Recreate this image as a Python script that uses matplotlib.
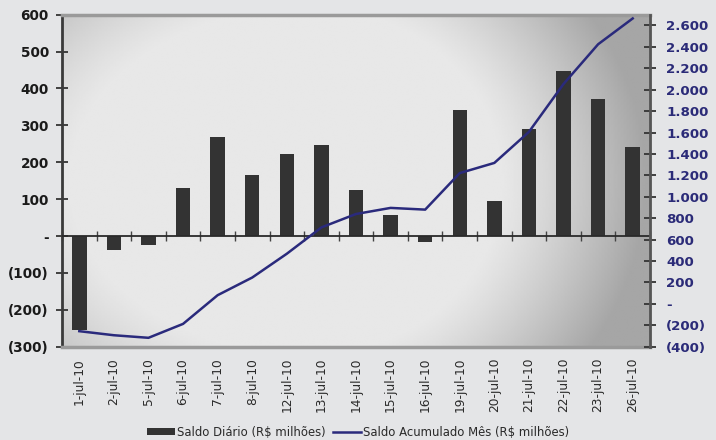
import matplotlib
matplotlib.use("Agg")
import matplotlib.pyplot as plt
import numpy as np
from matplotlib.patches import Patch
from matplotlib.lines import Line2D
from matplotlib.ticker import FuncFormatter, MultipleLocator

categories = ["1-jul-10", "2-jul-10", "5-jul-10", "6-jul-10", "7-jul-10", "8-jul-10",
              "12-jul-10", "13-jul-10", "14-jul-10", "15-jul-10", "16-jul-10",
              "19-jul-10", "20-jul-10", "21-jul-10", "22-jul-10", "23-jul-10", "26-jul-10"]
saldo_diario = [-255, -38, -24, 130, 268, 165, 222, 246, 125, 57, -16,
                341, 95, 290, 447, 371, 241]
saldo_acumulado = [-255, -293, -317, -187, 81, 246, 468, 714, 839, 896, 880,
                   1221, 1316, 1606, 2053, 2424, 2665]

bar_color = "#333333"
line_color = "#2a2a7c"
navy_text = "#2b2b78"

fig = plt.figure(figsize=(7.16, 4.4), dpi=100)
fig.patch.set_facecolor("#e4e5e7")

ax = fig.add_axes([62/716, 1-346.7/440, 588/716, 332/440])

# background gradient of the plot area
ny, nx = 200, 400
yy, xx = np.mgrid[0:1:ny*1j, 0:1:nx*1j]
rx = np.where(xx < 0.42, 0.62, 0.5)
d = np.sqrt(((xx-0.42)/rx)**2 + ((yy-0.5)/0.8)**2)
val = 0.91 - 0.26*np.clip((d-0.65)/0.5, 0, 1)**1.2
ax.imshow(val, extent=[0, 1, 0, 1], transform=ax.transAxes, aspect="auto",
          cmap="gray", vmin=0, vmax=1, zorder=0, interpolation="bilinear")

x = np.arange(len(categories))
ax.bar(x, saldo_diario, width=0.42, color=bar_color, zorder=2)
ax.set_xlim(-0.5, len(categories)-0.5)
ax.set_ylim(-300, 600)
ax.yaxis.set_major_locator(MultipleLocator(100))

def fmt(v, pos=None):
    v = int(round(v))
    if v == 0:
        return "-"
    s = f"{abs(v):,}".replace(",", ".")
    return f"({s})" if v < 0 else s

ax.yaxis.set_major_formatter(FuncFormatter(fmt))
ax.tick_params(axis="y", direction="inout", length=9, width=1.3, color="#333333",
               labelsize=9.8, labelcolor="#1a1a1a", pad=5)
for lab in ax.get_yticklabels():
    lab.set_fontweight("bold")

ax.set_xticks(x)
ax.set_xticklabels(categories, rotation=90, fontsize=8.8, color="#2a2a2a")
ax.tick_params(axis="x", length=0, pad=8)

# zero line with category-boundary ticks
ax.axhline(0, color="#2a2a2a", lw=1.3, zorder=3)
sec = ax.secondary_xaxis(1/3)
sec.set_xticks(np.arange(len(categories)+1)-0.5)
sec.tick_params(axis="x", direction="inout", length=7, width=1, color="#444444",
                labelbottom=False, labeltop=False)
sec.spines["bottom"].set_visible(False)
sec.spines["top"].set_visible(False)

for side in ["top", "bottom"]:
    ax.spines[side].set_color("#9a9a9a")
    ax.spines[side].set_linewidth(2.5)
ax.spines["left"].set_color("#3a3a3a")
ax.spines["left"].set_linewidth(2)

ax2 = ax.twinx()
ax2.plot(x, saldo_acumulado, color=line_color, lw=1.8, zorder=4)
ax2.set_ylim(-400, 2700)
ax2.yaxis.set_major_locator(MultipleLocator(200))
ax2.yaxis.set_major_formatter(FuncFormatter(fmt))
ax2.tick_params(axis="y", direction="inout", length=9, width=1.3, color="#333333",
                labelsize=9.6, labelcolor=navy_text, pad=7)
for lab in ax2.get_yticklabels():
    lab.set_fontweight("bold")
ax2.spines["right"].set_color("#555555")
ax2.spines["right"].set_linewidth(2)
for side in ["top", "bottom", "left"]:
    ax2.spines[side].set_visible(False)

handles = [Patch(facecolor=bar_color, edgecolor="none"),
           Line2D([0], [0], color=line_color, lw=1.8)]
fig.legend(handles, ["Saldo Diário (R$ milhões)", "Saldo Acumulado Mês (R$ milhões)"],
           loc="center", bbox_to_anchor=(0.5, 1-432/440), ncol=2, frameon=False,
           fontsize=8.4, handlelength=2.4, handleheight=0.6, handletextpad=0.2,
           columnspacing=0.6, labelcolor="#2a2a2a")

fig.savefig("out.png", dpi=100, facecolor=fig.get_facecolor())
